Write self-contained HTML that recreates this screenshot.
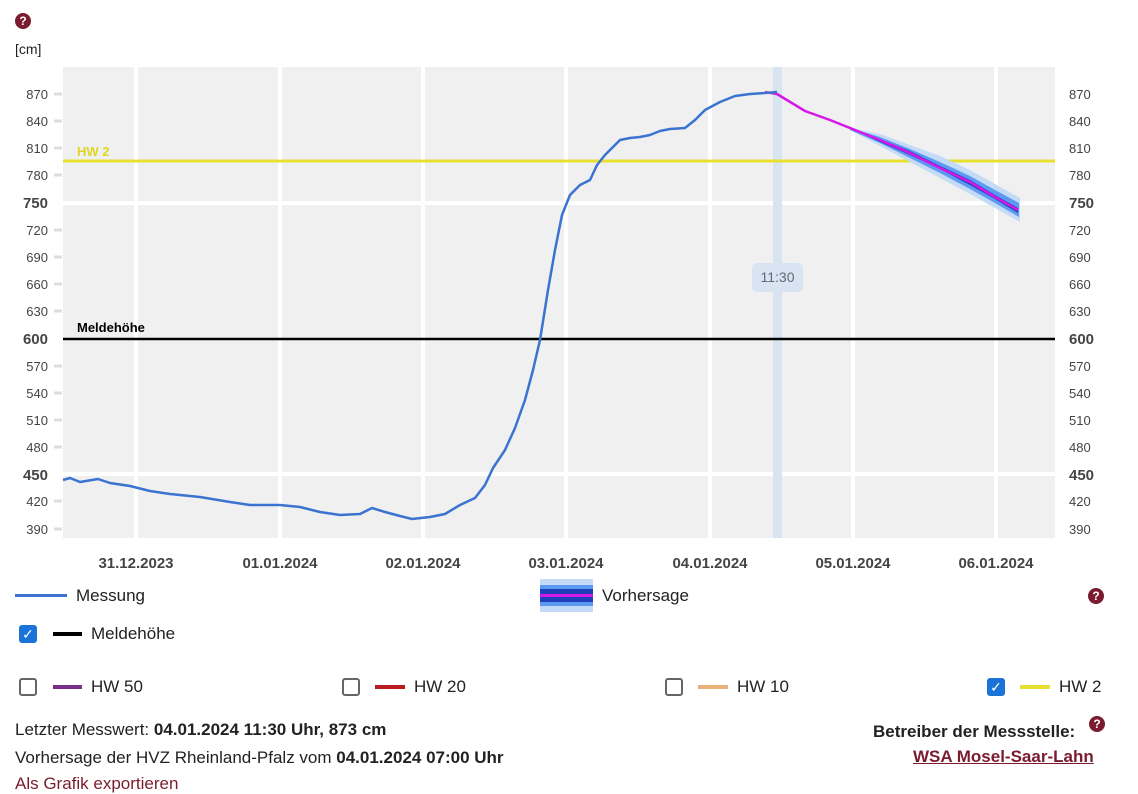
<!DOCTYPE html>
<html><head><meta charset="utf-8"><style>
body{margin:0;width:1138px;height:779px;overflow:hidden;background:#fff;font-family:"Liberation Sans",sans-serif;color:#222}
.t{position:absolute;font-size:17px;white-space:nowrap}
.cb{position:absolute;width:18px;height:18px;border:2px solid #666;border-radius:3px;box-sizing:border-box}
.cb.on{background:#1a73d6;border-color:#1a73d6;color:#fff;font-size:14px;text-align:center;line-height:15px}
.ln{position:absolute;height:4px}
.q{position:absolute;width:16px;height:16px;border-radius:50%;background:#7a1c2e;color:#fff;font-size:12px;font-weight:bold;text-align:center;line-height:16px}
</style></head><body>
<div class="q" style="left:15px;top:13px">?</div>
<div class="t" style="left:15px;top:41px;font-size:14px">[cm]</div>
<svg style="position:absolute;left:0;top:0" width="1138" height="580">
<rect x="63" y="67" width="992" height="471" fill="#f0f0f0"/>
<g stroke="#fff" stroke-width="4">
<line x1="136" y1="67" x2="136" y2="538"/><line x1="280" y1="67" x2="280" y2="538"/><line x1="423" y1="67" x2="423" y2="538"/><line x1="566" y1="67" x2="566" y2="538"/><line x1="710" y1="67" x2="710" y2="538"/><line x1="853" y1="67" x2="853" y2="538"/><line x1="996" y1="67" x2="996" y2="538"/>
<line x1="63" y1="203" x2="1055" y2="203"/><line x1="63" y1="474" x2="1055" y2="474"/>
</g>
<g stroke="#ddd" stroke-width="3">
<line x1="54" y1="94" x2="62" y2="94"/><line x1="54" y1="121" x2="62" y2="121"/><line x1="54" y1="148" x2="62" y2="148"/><line x1="54" y1="175" x2="62" y2="175"/><line x1="54" y1="230" x2="62" y2="230"/><line x1="54" y1="257" x2="62" y2="257"/><line x1="54" y1="284" x2="62" y2="284"/><line x1="54" y1="311" x2="62" y2="311"/><line x1="54" y1="366" x2="62" y2="366"/><line x1="54" y1="393" x2="62" y2="393"/><line x1="54" y1="420" x2="62" y2="420"/><line x1="54" y1="447" x2="62" y2="447"/><line x1="54" y1="501" x2="62" y2="501"/><line x1="54" y1="529" x2="62" y2="529"/>
</g>
<rect x="773" y="67" width="9" height="471" fill="#d8e4f2"/>
<line x1="63" y1="161" x2="1055" y2="161" stroke="#e8e030" stroke-width="3"/>
<line x1="63" y1="339" x2="1055" y2="339" stroke="#000" stroke-width="2.5"/>
<text x="77" y="156" fill="#e0d520" font-size="13" font-weight="bold">HW 2</text>
<text x="77" y="332" fill="#000" font-size="13" font-weight="bold">Meldehöhe</text>
<rect x="752" y="263" width="51" height="29" rx="5" fill="#d8e4f2"/>
<text x="777.5" y="282" fill="#667" font-size="14" text-anchor="middle">11:30</text>
<path d="M850,128 L880,134 L910,145 L940,156 L970,170 L995,184 L1020,198 L1020,222 L995,208 L970,194 L940,178 L910,162 L880,146 L850,130Z" fill="#c3dbf7"/>
<path d="M850,128 L880,137 L910,149 L940,162 L970,176 L995,190 L1019,203 L1019,217 L995,203 L970,189 L940,173 L910,158 L880,143 L850,130Z" fill="#5b9af0"/>
<path d="M852,129 L880,139 L910,151 L940,166 L970,180 L995,195 L1018,208 L1018,213 L995,199 L970,185 L940,169 L910,155 L880,142Z" fill="#1f3fb8"/>
<polyline fill="none" stroke="#d418e8" stroke-width="2.5" points="765,92 777,94 805,111 830,120 855,130 880,140 910,153 940,168 970,182 995,197 1018,210"/>
<polyline fill="none" stroke="#3a74d0" stroke-width="2.5" stroke-linejoin="round" points="63,480 70,478 80,482 98,479 110,483 130,486 150,491 170,494 200,497 230,502 250,505 280,505 300,507 320,512 340,515 360,514 372,508 385,512 400,516 412,519 430,517 445,514 460,505 475,498 485,485 493,468 505,450 515,428 525,400 533,370 540,340 548,290 555,250 562,215 570,195 580,185 590,180 597,165 605,155 615,145 620,140 630,138 640,137 650,135 660,131 670,129 685,128 695,120 705,110 720,102 735,96 750,94 765,93 777,92"/>
<g font-size="13" fill="#444" text-anchor="end">
<text x="48" y="99">870</text><text x="48" y="126">840</text><text x="48" y="153">810</text><text x="48" y="180">780</text><text x="48" y="208" font-weight="bold" font-size="15">750</text><text x="48" y="235">720</text><text x="48" y="262">690</text><text x="48" y="289">660</text><text x="48" y="316">630</text><text x="48" y="344" font-weight="bold" font-size="15">600</text><text x="48" y="371">570</text><text x="48" y="398">540</text><text x="48" y="425">510</text><text x="48" y="452">480</text><text x="48" y="480" font-weight="bold" font-size="15">450</text><text x="48" y="506">420</text><text x="48" y="534">390</text>
</g>
<g font-size="13" fill="#444" text-anchor="start">
<text x="1069" y="99">870</text><text x="1069" y="126">840</text><text x="1069" y="153">810</text><text x="1069" y="180">780</text><text x="1069" y="208" font-weight="bold" font-size="15">750</text><text x="1069" y="235">720</text><text x="1069" y="262">690</text><text x="1069" y="289">660</text><text x="1069" y="316">630</text><text x="1069" y="344" font-weight="bold" font-size="15">600</text><text x="1069" y="371">570</text><text x="1069" y="398">540</text><text x="1069" y="425">510</text><text x="1069" y="452">480</text><text x="1069" y="480" font-weight="bold" font-size="15">450</text><text x="1069" y="506">420</text><text x="1069" y="534">390</text>
</g>
<g font-size="15" font-weight="bold" fill="#444" text-anchor="middle">
<text x="136" y="568">31.12.2023</text><text x="280" y="568">01.01.2024</text><text x="423" y="568">02.01.2024</text><text x="566" y="568">03.01.2024</text><text x="710" y="568">04.01.2024</text><text x="853" y="568">05.01.2024</text><text x="996" y="568">06.01.2024</text>
</g>
</svg>
<div class="ln" style="left:15px;top:594px;width:52px;height:3px;background:#3a74d0"></div>
<div class="t" style="left:76px;top:586px">Messung</div>
<svg style="position:absolute;left:540px;top:579px" width="53" height="33"><rect width="53" height="33" fill="#c3dbf7"/><rect y="6" width="53" height="21" fill="#5b9af0"/><rect y="10" width="53" height="13" fill="#1f3fb8"/><rect y="15" width="53" height="3" fill="#d418e8"/></svg>
<div class="t" style="left:602px;top:586px">Vorhersage</div>
<div class="q" style="left:1088px;top:588px">?</div>
<div class="cb on" style="left:19px;top:625px">✓</div>
<div class="ln" style="left:53px;top:632px;width:29px;background:#000"></div>
<div class="t" style="left:91px;top:624px">Meldehöhe</div>
<div class="cb" style="left:19px;top:678px"></div>
<div class="ln" style="left:53px;top:685px;width:29px;background:#7b2d8a"></div>
<div class="t" style="left:91px;top:677px">HW 50</div>
<div class="cb" style="left:342px;top:678px"></div>
<div class="ln" style="left:375px;top:685px;width:30px;background:#b81c22"></div>
<div class="t" style="left:414px;top:677px">HW 20</div>
<div class="cb" style="left:665px;top:678px"></div>
<div class="ln" style="left:698px;top:685px;width:30px;background:#ecb07a"></div>
<div class="t" style="left:737px;top:677px">HW 10</div>
<div class="cb on" style="left:987px;top:678px">✓</div>
<div class="ln" style="left:1020px;top:685px;width:30px;background:#e8e030"></div>
<div class="t" style="left:1059px;top:677px">HW 2</div>
<div class="t" style="left:15px;top:720px">Letzter Messwert: <b>04.01.2024 11:30 Uhr, 873 cm</b></div>
<div class="t" style="left:15px;top:748px">Vorhersage der HVZ Rheinland-Pfalz vom <b>04.01.2024 07:00 Uhr</b></div>
<div class="t" style="left:15px;top:774px;color:#7a1c2e">Als Grafik exportieren</div>
<div class="t" style="left:873px;top:722px;font-weight:bold">Betreiber der Messstelle:</div>
<div class="q" style="left:1089px;top:716px">?</div>
<div class="t" style="left:913px;top:747px;font-weight:bold;color:#7a1c2e;text-decoration:underline">WSA Mosel-Saar-Lahn</div>
</body></html>
